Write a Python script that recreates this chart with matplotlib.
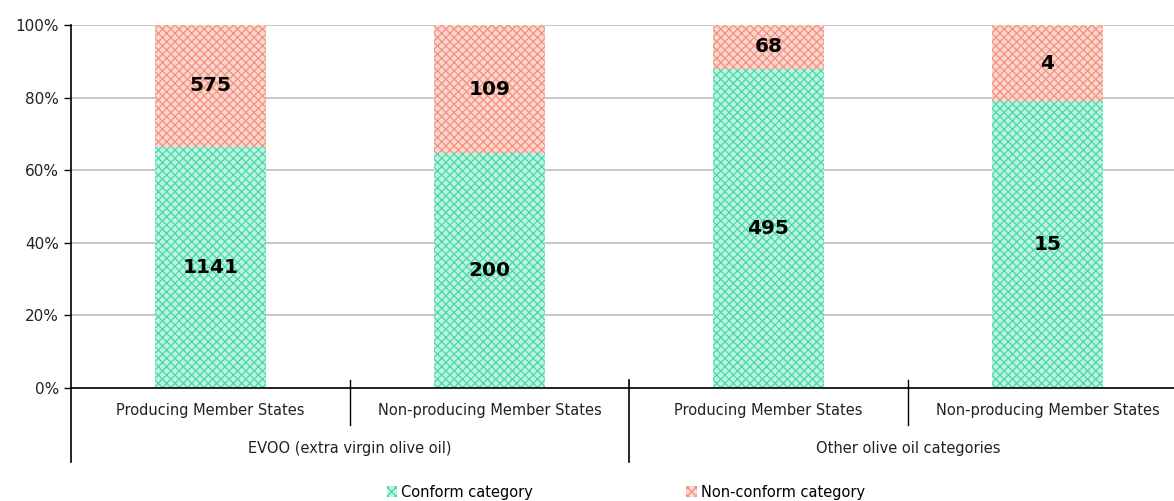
import numpy as np
import matplotlib.pyplot as plt
from matplotlib.ticker import PercentFormatter

plt.rcParams['hatch.linewidth'] = 0.9

groups = ["EVOO (extra virgin olive oil)", "Other olive oil categories"]
subcats = ["Producing Member States", "Non-producing Member States",
           "Producing Member States", "Non-producing Member States"]
conform = [1141, 200, 495, 15]
non_conform = [575, 109, 68, 4]

conform = np.array(conform, dtype=float)
non_conform = np.array(non_conform, dtype=float)
total = conform + non_conform
conf_pct = conform / total * 100
non_pct = non_conform / total * 100

fig = plt.figure(figsize=(11.74, 5.01), dpi=100)
ax = fig.add_axes([71 / 1174, 1 - 388 / 501, (1174 - 71) / 1174, 363 / 501])

x = np.arange(len(subcats))
w = 0.40
b1 = ax.bar(x, conf_pct, w, color="#bff2df", edgecolor="#45daaa", hatch="xxxx",
            linewidth=0, label="Conform category", zorder=2)
b2 = ax.bar(x, non_pct, w, bottom=conf_pct, color="#fbd6ce", edgecolor="#f2917e",
            hatch="xxxx", linewidth=0, label="Non-conform category", zorder=2)

for i in range(len(x)):
    ax.text(x[i], conf_pct[i] / 2, f"{int(conform[i])}", ha="center", va="center",
            fontsize=14.5, fontweight="bold", zorder=3)
    ax.text(x[i], conf_pct[i] + non_pct[i] / 2, f"{int(non_conform[i])}", ha="center",
            va="center", fontsize=14.5, fontweight="bold", zorder=3)

ax.set_ylim(0, 100)
ax.set_xlim(-0.5, 3.5 - 13 / 279)
ax.yaxis.set_major_formatter(PercentFormatter(decimals=0))
ax.set_yticks(np.arange(0, 101, 20))
ax.tick_params(axis="y", labelsize=11, length=5, width=1, direction="out",
               labelcolor="#222222")
ax.set_xticks([])
ax.grid(axis="y", color="#bcbcbc", linewidth=1.2, zorder=0)
for s in ["top", "right"]:
    ax.spines[s].set_visible(False)
ax.spines["left"].set_linewidth(1.2)
ax.spines["bottom"].set_linewidth(1.2)

# two-level category axis
trans = ax.get_xaxis_transform()
for i, lab in enumerate(subcats):
    ax.text(x[i], -0.063, lab, transform=trans, ha="center", va="center",
            fontsize=10.5, color="#222222")
for gi, g in enumerate(groups):
    ax.text(gi * 2 + 0.5, -0.168, g, transform=trans, ha="center", va="center",
            fontsize=10.5, color="#222222")
for xs in [0.5, 2.5]:
    ax.plot([xs, xs], [0.022, -0.102], transform=trans, color="black", lw=1, clip_on=False)
for xs in [-0.5, 1.5]:
    ax.plot([xs, xs], [0.022 if xs > 0 else 0, -0.204], transform=trans, color="black",
            lw=1.2, clip_on=False)

fig.legend(handles=[b1, b2], loc="center", bbox_to_anchor=(626 / 1174, 1 - 492 / 501),
           ncol=2, frameon=False, fontsize=10.5, handlelength=0.7, handleheight=0.7,
           handletextpad=0.3, columnspacing=10.5)

fig.savefig("out.png", dpi=100)
